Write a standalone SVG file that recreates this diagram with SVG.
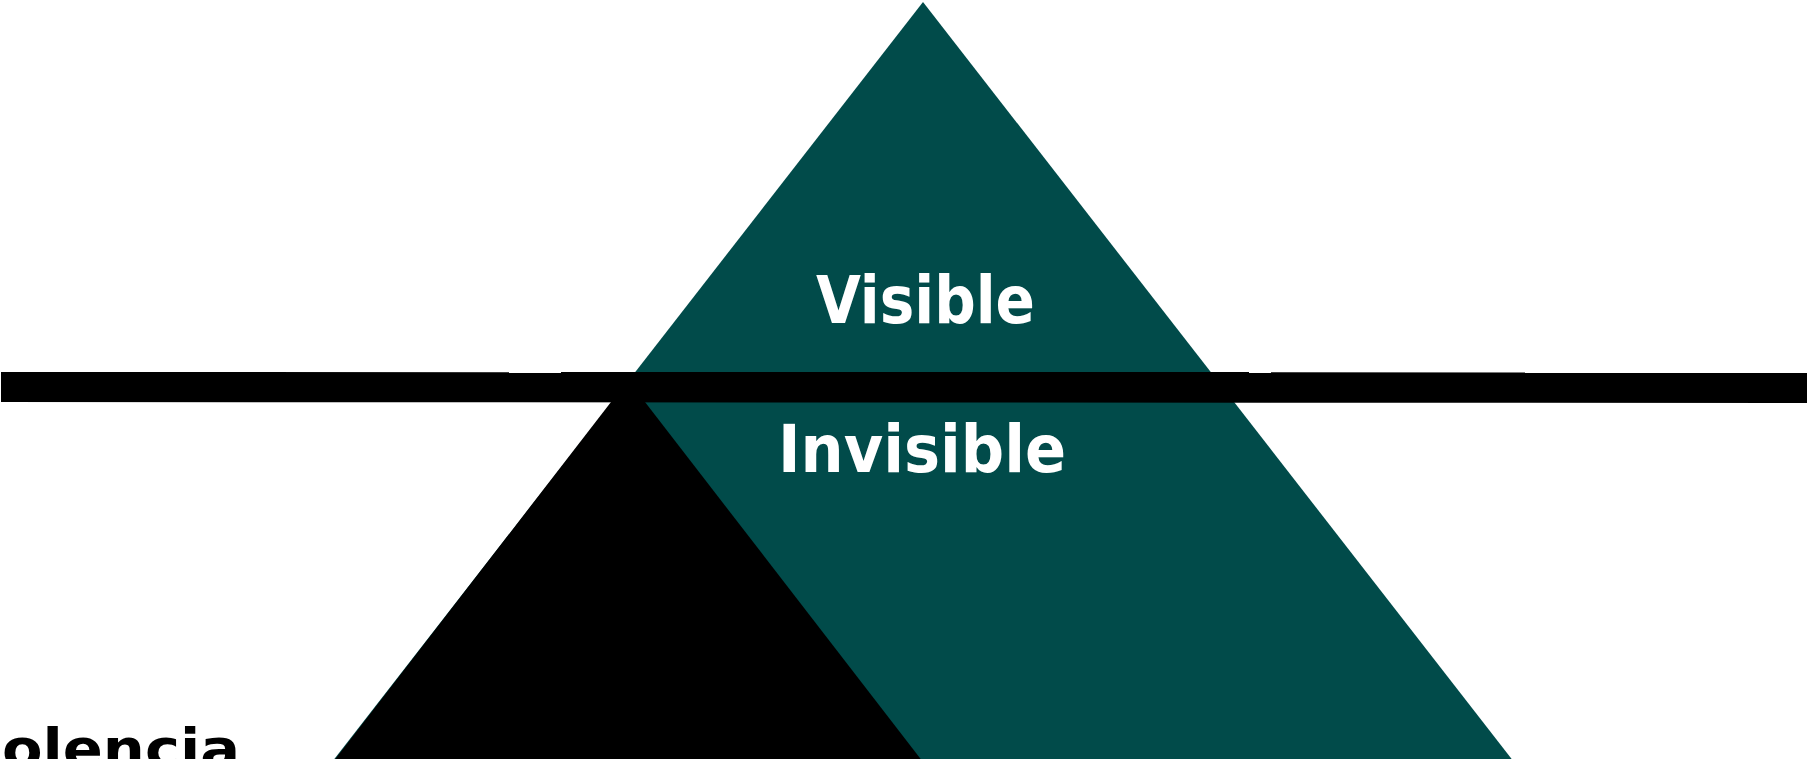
<svg xmlns="http://www.w3.org/2000/svg" width="1807" height="759" viewBox="0 0 1807 759">
  <style>
    .teal { fill: #014B4A; }
    .blk { fill: #000000; }
    .lbl { font-family: "DejaVu Sans", "Liberation Sans", sans-serif; font-weight: bold; font-stretch: condensed; }
  </style>
  <rect x="0" y="0" width="1807" height="759" fill="#ffffff"/>
  <g id="pyramid">
    <polygon class="teal" points="923,2 1514,762 332,762"/>
    <polygon class="blk" points="628,380 923,762 333,762"/>
  </g>
  <g id="divider">
    <polygon class="blk" points="1,372 1807,372.5 1807,403 1,402"/>
    <rect class="blk" x="561" y="372" width="688" height="30"/>
  </g>
  <g id="labels">
    <text class="lbl" x="816" y="323" font-size="66" fill="#ffffff" textLength="219" lengthAdjust="spacingAndGlyphs">Visible</text>
    <text class="lbl" x="778" y="472" font-size="66" fill="#ffffff" textLength="288" lengthAdjust="spacingAndGlyphs">Invisible</text>
    <text class="lbl" x="2" y="767" font-size="53" fill="#000000" textLength="238" lengthAdjust="spacingAndGlyphs">olencia</text>
  </g>
</svg>
